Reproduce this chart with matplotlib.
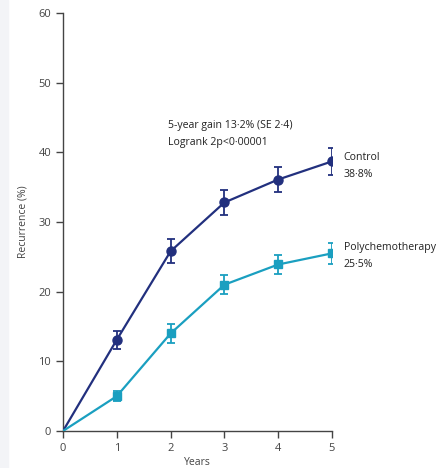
import matplotlib.pyplot as plt
from matplotlib.patches import Rectangle

years = [0, 1, 2, 3, 4, 5]
control = [0, 13.1, 25.8, 32.8, 36.1, 38.7]
control_se = [0, 1.3, 1.7, 1.8, 1.8, 1.9]
poly = [0, 5.0, 14.0, 21.0, 23.9, 25.5]
poly_se = [0, 0.7, 1.3, 1.4, 1.4, 1.5]
yticks = [0, 10, 20, 30, 40, 50, 60]

navy = "#22307e"
teal = "#1a9fc0"
grey = "#444444"

plt.rcParams["font.family"] = ["Open Sans", "DejaVu Sans"]

fig = plt.figure(figsize=(4.39, 4.68), dpi=100)
fig.patches.append(Rectangle((0, 0), 8 / 439, 1, transform=fig.transFigure,
                             color="#f3f4f7", zorder=0))
ax = fig.add_axes([63 / 439, 1 - 431 / 468, (332 - 63) / 439, (431 - 13) / 468])

ax.plot(years, control, color=navy, lw=1.6, zorder=3)
ax.errorbar(years[1:], control[1:], yerr=control_se[1:], fmt="o", color=navy,
            ms=6.5, capsize=3, elinewidth=1.3, capthick=1.3, zorder=4)
ax.plot(years, poly, color=teal, lw=1.6, zorder=3)
ax.errorbar(years[1:], poly[1:], yerr=poly_se[1:], fmt="s", color=teal,
            ms=6, capsize=3, elinewidth=1.3, capthick=1.3, zorder=4)

ax.set_xlim(0, 5)
ax.set_ylim(0, 60)
ax.set_xticks(years)
ax.set_yticks(yticks)
ax.spines["top"].set_visible(False)
ax.spines["right"].set_visible(False)
for s in ["left", "bottom"]:
    ax.spines[s].set_color(grey)
    ax.spines[s].set_linewidth(1.0)
ax.tick_params(colors=grey, labelsize=8, length=5, width=1.0, direction="out")
ax.set_xlabel("Years", fontsize=7.5, color=grey, labelpad=2)
ax.set_ylabel("Recurrence (%)", fontsize=7.5, color=grey, labelpad=7)

ax.text(1.95, 42.6, "5-year gain 13·2% (SE 2·4)\nLogrank 2p<0·00001",
        fontsize=7.6, color="#222222", linespacing=1.75, va="center")
ax.text(5.22, 38.0, "Control\n38·8%", fontsize=7.6, color="#222222",
        linespacing=1.75, va="center")
ax.text(5.22, 25.1, "Polychemotherapy\n25·5%", fontsize=7.6, color="#222222",
        linespacing=1.75, va="center", clip_on=False)

fig.savefig("out.png", dpi=100)
